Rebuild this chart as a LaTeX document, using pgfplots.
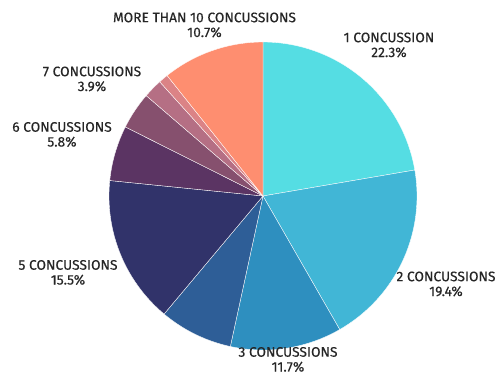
\documentclass[border=0pt]{standalone}
\usepackage{pgfplots}
\pgfplotsset{compat=1.18}
\usepackage{pgfplotstable}
\usepackage{fontspec}
\setmainfont{Fira Sans}
\newfontfamily\lblfont{Fira Sans}[FakeBold=0.35]
\definecolor{c1}{HTML}{55DDE3}
\definecolor{c2}{HTML}{41B6D6}
\definecolor{c3}{HTML}{2E8FBF}
\definecolor{c4}{HTML}{2E5E97}
\definecolor{c5}{HTML}{31336A}
\definecolor{c6}{HTML}{5B3463}
\definecolor{c7}{HTML}{86506E}
\definecolor{c8}{HTML}{B56F84}
\definecolor{c9}{HTML}{DB8386}
\definecolor{c10}{HTML}{FE8E70}
\definecolor{txt}{HTML}{262626}
\tikzset{lbl/.style={font=\lblfont\fontsize{13.8}{14.8}\selectfont, text=txt, align=center, inner sep=0pt}}
% share of each slice (percent), clockwise from 12 o'clock
\pgfplotstableread{
value color
22.3 c1
19.4 c2
11.7 c3
7.7  c4
15.5 c5
5.8  c6
3.9  c7
2.0  c8
1.0  c9
10.7 c10
}\piedata
\def\cx{263}\def\cy{179}\def\rr{154}
\gdef\cum{0}
\newcommand\slice[2]{%
  \pgfmathsetmacro\sa{90-3.6*\cum}%
  \pgfmathsetmacro\cumnew{\cum+#1}%
  \pgfmathsetmacro\sb{90-3.6*\cumnew}%
  \edef\temp{\noexpand\addplot[fill=#2, draw=white, line width=0.35pt, domain=\sb:\sa, samples=80, variable=\noexpand\t] ({\cx+\rr*cos(\noexpand\t)},{\cy+\rr*sin(\noexpand\t)}) -- (axis cs:\cx,\cy) -- cycle;}%
  \temp
  \xdef\cum{\cumnew}%
}
\begin{document}
\begin{tikzpicture}
\begin{axis}[
  scale only axis, width=499pt, height=375pt,
  xmin=0, xmax=499, ymin=0, ymax=375,
  hide axis, clip=false,
]
\pgfplotstablegetrowsof{\piedata}
\pgfmathtruncatemacro\nrows{\pgfplotsretval-1}
\pgfplotsinvokeforeach{0,...,\nrows}{%
  \pgfplotstablegetelem{#1}{value}\of{\piedata}\let\val\pgfplotsretval
  \pgfplotstablegetelem{#1}{color}\of{\piedata}\let\col\pgfplotsretval
  \edef\doslice{\noexpand\slice{\val}{\col}}\doslice
}
\node[lbl] at (axis cs:389,330) {1 CONCUSSION\\22.3\%};
\node[lbl] at (axis cs:446,91) {2 CONCUSSIONS\\19.4\%};
\node[lbl] at (axis cs:288,15.5) {3 CONCUSSIONS\\11.7\%};
\node[lbl] at (axis cs:68,102.5) {5 CONCUSSIONS\\15.5\%};
\node[lbl] at (axis cs:62,240.5) {6 CONCUSSIONS\\5.8\%};
\node[lbl] at (axis cs:92,296) {7 CONCUSSIONS\\3.9\%};
\node[lbl] at (axis cs:204.5,350) {MORE THAN 10 CONCUSSIONS\\10.7\%};
\end{axis}
\pgfresetboundingbox
\path[use as bounding box] (0,0) rectangle (499pt,375pt);
\end{tikzpicture}
\end{document}
